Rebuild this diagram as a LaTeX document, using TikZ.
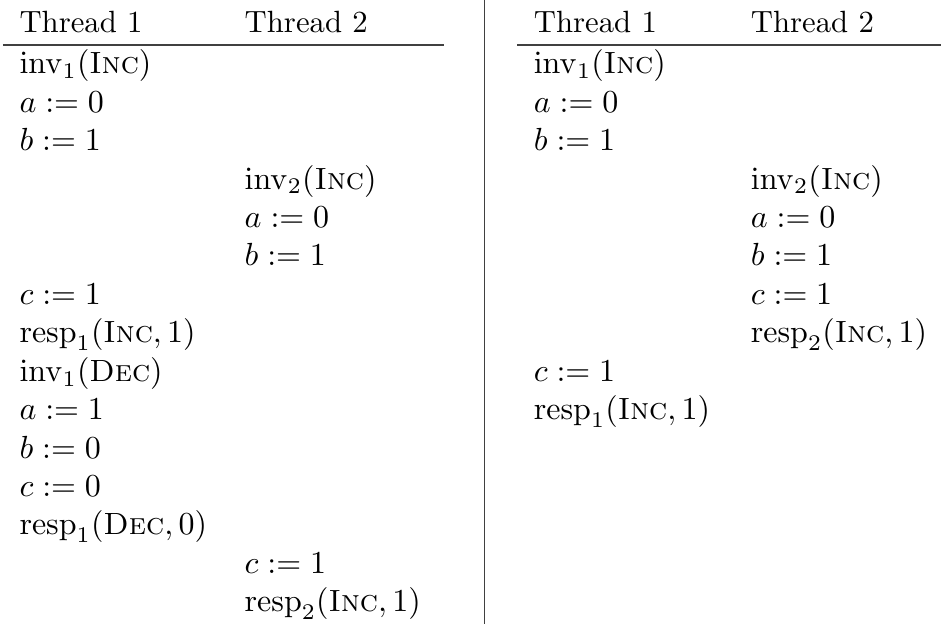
\documentclass[tikz,border=0pt]{standalone}
\usepackage{amsmath}
\usepackage{tikz}
\usepackage{xcolor}

\newcommand{\invop}[2]{\ensuremath{\mathrm{inv}_{#1}(\textsc{#2})}}
\newcommand{\respop}[3]{\ensuremath{\mathrm{resp}_{#1}(\textsc{#2},#3)}}

\tikzset{
  cell/.style={anchor=base west, inner sep=0pt, font=\fontsize{9.6}{12}\selectfont},
  hrule/.style={line width=0.4pt, black!75}
}

\begin{document}
\begin{tikzpicture}[x=1pt,y=-1pt]
\useasboundingbox (0,0) rectangle (294,195);

% left history
\node[cell] (lh1) at (5.9,10.3) {Thread 1};
\node[cell] (lh2) at (76.25,10.3) {Thread 2};
\draw[hrule] (0.9,14.1) -- (138.8,14.1);
\foreach \r/\t in {0/{\invop{1}{Inc}}, 1/{$a := 0$}, 2/{$b := 1$}, 6/{$c := 1$},
    7/{\respop{1}{Inc}{1}}, 8/{\invop{1}{Dec}}, 9/{$a := 1$}, 10/{$b := 0$},
    11/{$c := 0$}, 12/{\respop{1}{Dec}{0}}}
  \node[cell] (la\r) at (5.9,23.1+12*\r) {\t};
\foreach \r/\t in {3/{\invop{2}{Inc}}, 4/{$a := 0$}, 5/{$b := 1$}, 13/{$c := 1$},
    14/{\respop{2}{Inc}{1}}}
  \node[cell] (lb\r) at (76.25,23.1+12*\r) {\t};

% separator
\draw[hrule] (151.3,0) -- (151.3,195);

% right history
\node[cell] (rh1) at (166.6,10.3) {Thread 1};
\node[cell] (rh2) at (234.4,10.3) {Thread 2};
\draw[hrule] (161.6,14.1) -- (294,14.1);
\foreach \r/\t in {0/{\invop{1}{Inc}}, 1/{$a := 0$}, 2/{$b := 1$}, 8/{$c := 1$},
    9/{\respop{1}{Inc}{1}}}
  \node[cell] (ra\r) at (166.6,23.1+12*\r) {\t};
\foreach \r/\t in {3/{\invop{2}{Inc}}, 4/{$a := 0$}, 5/{$b := 1$}, 6/{$c := 1$},
    7/{\respop{2}{Inc}{1}}}
  \node[cell] (rb\r) at (234.4,23.1+12*\r) {\t};

\end{tikzpicture}
\end{document}
